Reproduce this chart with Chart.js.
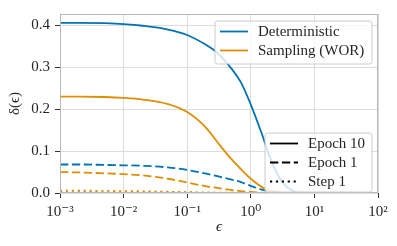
<!DOCTYPE html>
<html>
<head>
<meta charset="utf-8">
<script src="https://cdn.jsdelivr.net/npm/chart.js@4"></script>
<style>html,body{margin:0;padding:0;background:#fff}</style>
</head>
<body>
<canvas id="deltaChart" width="397" height="246"></canvas>
<script>
// epsilon grid (x) and delta(epsilon) curves
let epsilon = [0.001, 0.002, 0.005, 0.01, 0.02, 0.05, 0.1, 0.2, 0.3, 0.5, 0.7, 1, 1.5, 2, 3, 5, 7, 10, 20, 50, 100];
let detEpoch10 = [0.406, 0.406, 0.405, 0.403, 0.399, 0.390, 0.377, 0.353, 0.334, 0.296, 0.264, 0.211, 0.140, 0.085, 0.030, 0.003, 0.0005, 0, 0, 0, 0];
let detEpoch1 = [0.068, 0.068, 0.067, 0.066, 0.065, 0.061, 0.055, 0.046, 0.040, 0.032, 0.026, 0.017, 0.008, 0.0035, 0.0006, 0, 0, 0, 0, 0, 0];
let detStep1 = [0.0012, 0.0012, 0.0011, 0.001, 0.0009, 0.0008, 0.0006, 0.0004, 0.0003, 0.0002, 0.0001, 0.0001, 0, 0, 0, 0, 0, 0, 0, 0, 0];
let worEpoch10 = [0.230, 0.230, 0.229, 0.227, 0.223, 0.212, 0.193, 0.155, 0.121, 0.080, 0.057, 0.034, 0.014, 0.005, 0.0007, 0, 0, 0, 0, 0, 0];
let worEpoch1 = [0.050, 0.049, 0.047, 0.045, 0.042, 0.034, 0.025, 0.016, 0.012, 0.007, 0.0045, 0.0025, 0.0007, 0.0001, 0, 0, 0, 0, 0, 0, 0];
let worStep1 = [0.0055, 0.0055, 0.005, 0.0045, 0.004, 0.003, 0.002, 0.0015, 0.001, 0.0007, 0.0005, 0.0003, 0.0001, 0, 0, 0, 0, 0, 0, 0, 0];

let methodNames = ['Deterministic', 'Sampling (WOR)'];
let methodColors = ['#0173b2', '#de8f05'];
let stageNames = ['Epoch 10', 'Epoch 1', 'Step 1'];
let stageDashes = [[], [8.3, 3.6], [2.2, 3.7]];
let xTicks = [0.001, 0.01, 0.1, 1, 10, 100];

let serif = '"Liberation Serif", "DejaVu Serif", serif';
let textColor = '#262626';

function pts(ys) {
    return epsilon.map((e, i) => ({x: e, y: ys[i]}));
}
function sup(n) {
    let map = {'-': '\u207b', '0': '\u2070', '1': '\u00b9', '2': '\u00b2', '3': '\u00b3', '4': '\u2074',
               '5': '\u2075', '6': '\u2076', '7': '\u2077', '8': '\u2078', '9': '\u2079'};
    return String(n).split('').map(c => map[c]).join('');
}
function line(data, color, dash) {
    return {
        data: pts(data),
        borderColor: color,
        borderWidth: 1.8,
        borderDash: dash,
        pointRadius: 0,
        fill: false,
        cubicInterpolationMode: 'monotone'
    };
}

function roundBox(ctx, x, y, w, h, r) {
    ctx.beginPath();
    ctx.moveTo(x + r, y);
    ctx.arcTo(x + w, y, x + w, y + h, r);
    ctx.arcTo(x + w, y + h, x, y + h, r);
    ctx.arcTo(x, y + h, x, y, r);
    ctx.arcTo(x, y, x + w, y, r);
    ctx.closePath();
}

function drawLegend(ctx, x, y, w, h, entries) {
    ctx.save();
    roundBox(ctx, x, y, w, h, 2.5);
    ctx.fillStyle = 'rgba(255,255,255,0.8)';
    ctx.fill();
    ctx.strokeStyle = '#cccccc';
    ctx.lineWidth = 1;
    ctx.stroke();
    ctx.font = '15px ' + serif;
    ctx.textBaseline = 'middle';
    ctx.fillStyle = textColor;
    entries.forEach((en, i) => {
        let ly = y + 10.5 + i * 19;
        ctx.beginPath();
        ctx.setLineDash(en.dash);
        ctx.strokeStyle = en.color;
        ctx.lineWidth = 1.8;
        ctx.moveTo(x + 5, ly);
        ctx.lineTo(x + 33, ly);
        ctx.stroke();
        ctx.setLineDash([]);
        ctx.fillText(en.label, x + 43, ly + 0.5);
    });
    ctx.restore();
}

let framePlugin = {
    id: 'frame',
    afterDatasetsDraw(chart) {
        let a = chart.chartArea, ctx = chart.ctx;
        ctx.save();
        ctx.strokeStyle = '#b8b8b8';
        ctx.lineWidth = 1;
        ctx.strokeRect(Math.round(a.left) + 0.5, Math.round(a.top) + 0.5,
                       Math.round(a.right - a.left) - 1, Math.round(a.bottom - a.top) - 1);
        ctx.restore();
    },
    afterDraw(chart) {
        let a = chart.chartArea, ctx = chart.ctx;
        drawLegend(ctx, a.right - 163, a.top + 7, 157, 43,
            methodNames.map((m, i) => ({label: m, color: methodColors[i], dash: []})));
        drawLegend(ctx, a.right - 113, a.top + 119, 107, 59,
            stageNames.map((s, i) => ({label: s, color: '#000', dash: stageDashes[i]})));
    }
};

let ctx1 = document.getElementById('deltaChart').getContext('2d');
let deltaChart = new Chart(ctx1, {
    type: 'line',
    data: {
        datasets: [
            line(worEpoch10, methodColors[1], stageDashes[0]),
            line(worEpoch1, methodColors[1], stageDashes[1]),
            line(worStep1, methodColors[1], stageDashes[2]),
            line(detEpoch10, methodColors[0], stageDashes[0]),
            line(detEpoch1, methodColors[0], stageDashes[1]),
            line(detStep1, methodColors[0], stageDashes[2])
        ]
    },
    options: {
        responsive: false,
        devicePixelRatio: 1,
        animation: false,
        layout: {padding: {top: 8, right: 19, left: 0, bottom: 0}},
        plugins: {
            legend: {display: false},
            tooltip: {enabled: false}
        },
        scales: {
            x: {
                type: 'logarithmic',
                min: 0.001,
                max: 100,
                afterBuildTicks: (scale) => { scale.ticks = xTicks.map(v => ({value: v})); },
                afterFit: (scale) => { scale.height = 53; },
                ticks: {
                    color: textColor,
                    font: {family: serif, size: 15},
                    padding: 5,
                    maxRotation: 0,
                    autoSkip: false,
                    callback: (v) => '10' + sup(Math.round(Math.log10(v)))
                },
                grid: {color: '#dddddd', tickColor: '#333333', tickLength: 5, lineWidth: 1},
                border: {display: false},
                title: {display: true, text: '\u03f5', color: textColor,
                        font: {family: serif, size: 15, style: 'italic'}, padding: {top: 0, bottom: 10}}
            },
            y: {
                min: 0,
                max: 0.427,
                afterFit: (scale) => { scale.width = 60; },
                ticks: {
                    stepSize: 0.1,
                    includeBounds: false,
                    color: textColor,
                    font: {family: serif, size: 15},
                    padding: 5,
                    callback: (v) => v.toFixed(1)
                },
                grid: {color: '#dddddd', tickColor: '#333333', tickLength: 5, lineWidth: 1},
                border: {display: false},
                title: {display: true, text: '\u03b4(\u03f5)', color: textColor,
                        font: {family: serif, size: 15}, padding: {top: 6, bottom: 0}}
            }
        }
    },
    plugins: [framePlugin]
});
</script>
</body>
</html>
